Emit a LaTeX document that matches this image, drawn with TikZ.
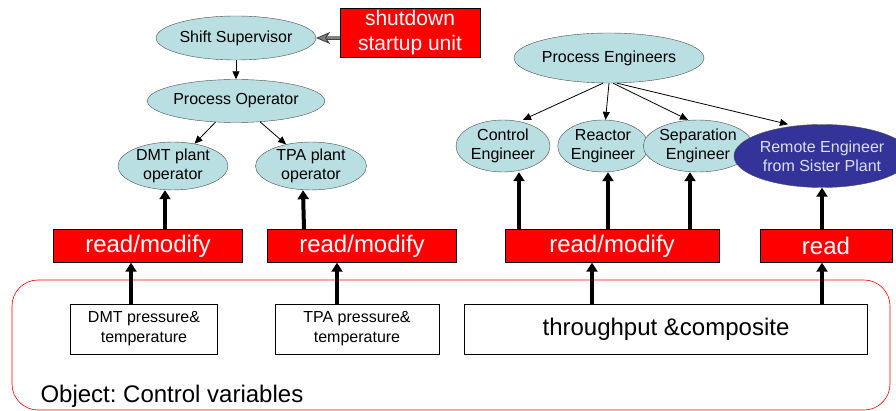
\documentclass[tikz,border=0pt]{standalone}
\usepackage{fontspec}
\setmainfont{Liberation Sans}
\usetikzlibrary{shapes.geometric,arrows.meta}
\definecolor{rolefill}{RGB}{185,223,226}
\definecolor{remotefill}{RGB}{51,51,153}
\definecolor{accessred}{RGB}{255,0,0}

\tikzstyle{role}=[shape=ellipse,draw=black!70,fill=rolefill,inner sep=0pt,align=center,font=\fontsize{16}{19}\selectfont]
\tikzstyle{access}=[shape=rectangle,draw=black,fill=accessred,text=white,inner sep=0pt,minimum height=33pt,font=\fontsize{24}{26}\selectfont]

\begin{document}
\frenchspacing
\begin{tikzpicture}[x=1pt,y=-1pt]
\tikzstyle{varbox}=[shape=rectangle,draw=black,fill=white,inner sep=0pt,align=center,minimum height=50pt,font=\fontsize{16}{20}\selectfont]
\tikzstyle{reports}=[draw=black,line width=0.8pt,-{Triangle[length=8pt,width=7pt]}]
\tikzstyle{bigarrow}=[draw=black,line width=4pt,-{Triangle[length=9pt,width=11pt]}]
\useasboundingbox (0,0) rectangle (896,411);
% object
\draw[accessred,line width=0.6pt,rounded corners=26pt] (12,280) rectangle (890,410);
\node[anchor=base west,font=\fontsize{24}{26}\selectfont] (obj) at (37,402) {Object: Control variables};
\node[varbox,minimum width=147pt] (dmt) at (144,329) {DMT pressure\&\\temperature};
\node[varbox,minimum width=164pt] (tpa) at (357,329) {TPA pressure\&\\temperature};
\node[varbox,minimum width=403pt,font=\fontsize{24}{26}\selectfont] (tc) at (666,329) {throughput \&composite};
% access rights
\node[access,minimum width=189pt] (rm1) at (148,246) {read/modify};
\node[access,minimum width=189pt] (rm2) at (362,246) {read/modify};
\node[access,minimum width=214pt] (rm3) at (612,246) {read/modify};
\node[access,minimum width=132pt] (rd) at (826,246) {read};
\node[access,minimum width=140pt,minimum height=49pt,align=center,font=\fontsize{21}{25}\selectfont] (sd) at (410,33) {shutdown\\startup unit};
% operators
\node[role,minimum width=128pt,minimum height=44pt] (ss) at (236,38) {Shift Supervisor};
\node[role,minimum width=155pt,minimum height=43pt] (po) at (236,101) {Process Operator};
\node[role,minimum width=110pt,minimum height=46pt] (dmtop) at (173,166) {DMT plant\\operator};
\node[role,minimum width=111pt,minimum height=46pt] (tpaop) at (311,166) {TPA plant\\operator};
% engineers
\node[role,minimum width=155pt,minimum height=50pt] (pe) at (609,58) {Process Engineers};
\node[role,minimum width=94pt,minimum height=52pt] (ce) at (503,146) {Control\\Engineer};
\node[role,minimum width=85pt,minimum height=52pt] (re) at (603,146) {Reactor\\Engineer};
\node[role,minimum width=93pt,minimum height=52pt] (se) at (698,146) {Separation\\Engineer};
\node[role,fill=remotefill,text={rgb,255:red,221;green,221;blue,238},minimum width=148pt,minimum height=63pt] (rem) at (822,156) {Remote Engineer\\from Sister Plant};
% hierarchy
\draw[draw=black!75,double=black!50,double distance=3pt,line width=0.9pt,-{Stealth[length=14pt,width=12pt,inset=4pt,fill=black!50]}] (sd.west |- ss.east) -- (ss.east);
\draw[reports] (ss) -- (po);
\draw[reports] (po) -- (dmtop);
\draw[reports] (po) -- (tpaop);
\draw[reports] ([xshift=-6pt]pe.south) -- ([xshift=20pt]ce.north);
\draw[reports] (pe.south) -- (re);
\draw[reports] ([xshift=4pt]pe.south) -- ([xshift=-10pt]se.north);
\draw[reports] ([xshift=8pt]pe.south) -- ([xshift=-34pt]rem.north);
% data flow
\draw[bigarrow] ([xshift=-13pt]dmt.north) -- ([xshift=-17pt]rm1.south);
\draw[bigarrow] ([xshift=-20pt]tpa.north) -- ([xshift=-25pt]rm2.south);
\draw[bigarrow] ([xshift=-74pt]tc.north) -- ([xshift=-20pt]rm3.south);
\draw[bigarrow] ([xshift=156pt]tc.north) -- ([xshift=-4pt]rd.south);
\draw[bigarrow] ([xshift=17pt]rm1.north) -- ([xshift=-8pt]dmtop.south);
\draw[bigarrow] ([xshift=-58pt]rm2.north) -- ([xshift=-8pt]tpaop.south);
\draw[bigarrow] ([xshift=-93pt]rm3.north) -- ([xshift=16pt]ce.south);
\draw[bigarrow] ([xshift=-4pt]rm3.north) -- ([xshift=5pt]re.south);
\draw[bigarrow] ([xshift=78pt]rm3.north) -- ([xshift=-8pt]se.south);
\draw[bigarrow] ([xshift=-4pt]rd.north) -- (rem.south);
\end{tikzpicture}
\end{document}
